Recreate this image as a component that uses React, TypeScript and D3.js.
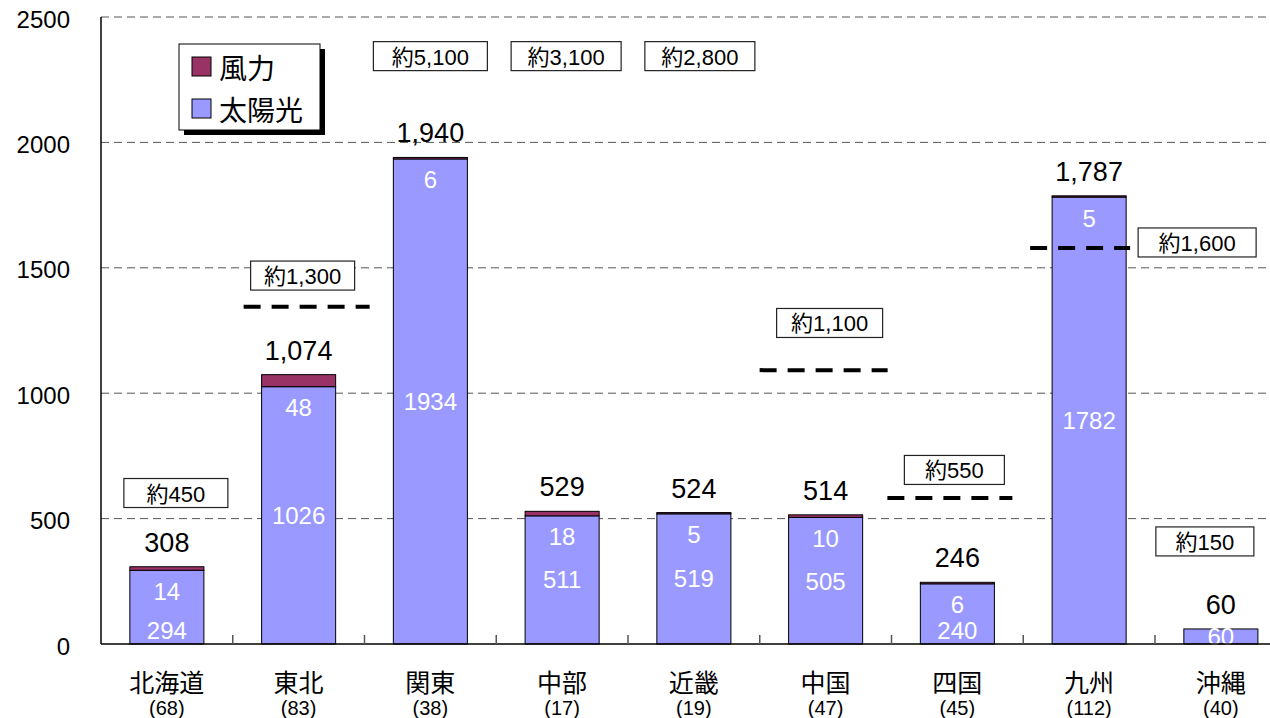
import React, { useEffect, useRef } from 'react';
import * as d3 from 'd3';

// regions, with the number of sites in brackets
const categories = ['北海道', '東北', '関東', '中部', '近畿', '中国', '四国', '九州', '沖縄'];
const siteCounts = ['68', '83', '38', '17', '19', '47', '45', '112', '40'];

// stacked series (solar at the bottom, wind on top)
const solar = [294, 1026, 1934, 511, 519, 505, 240, 1782, 60];
const wind = [14, 48, 6, 18, 5, 10, 6, 5, 0];
const totalLabels = ['308', '1,074', '1,940', '529', '524', '514', '246', '1,787', '60'];

// "approx." boxes above each region, and where they sit on the value axis
const limitText = ['約450', '約1,300', '約5,100', '約3,100', '約2,800', '約1,100', '約550', '約1,600', '約150'];
const limitBoxLevel = [602, 1469, 2344, 2344, 2344, 1280, 694, 1601, 409];

// thick dashed limit lines
const limitLineCats = ['東北', '中国', '四国', '九州'];
const limitLineLevel = [1345, 1092, 582, 1579];

const yTicks = [0, 500, 1000, 1500, 2000, 2500];

const seriesNames = ['風力', '太陽光'];
const COLORS = { wind: '#993366', solar: '#9999FF' };

const NUM_FONT = '"Liberation Sans", Arial, "Noto Sans CJK JP", sans-serif';
const CJK_FONT = '"Noto Sans CJK JP", "Liberation Sans", sans-serif';

export default function App() {
  const ref = useRef<SVGSVGElement | null>(null);

  useEffect(() => {
    const svg = d3.select(ref.current);
    svg.selectAll('*').remove();

    const W = 1270;
    const H = 718;
    const left = 101;
    const step = 131.75;
    const top = 17;
    const bottom = 644;

    const x = d3
      .scaleBand<string>()
      .domain(categories)
      .range([left, left + step * categories.length])
      .paddingInner(0.438)
      .paddingOuter(0.219);
    const y = d3.scaleLinear().domain([0, 2500]).range([bottom, top]);
    const cx = (c: string) => (x(c) as number) + x.bandwidth() / 2;

    // layout tweaks for the annotation boxes / lines (pixels)
    const boxDx = [9, 4, 0, 4, 6, 4, -3, 108, -16];
    const boxW = [104, 104, 114, 110, 110, 106, 100, 118, 98];
    const boxH = 29;
    const lineSpan = [[-55, 71], [-66, 62], [-70, 55], [-59, 41]];

    // gridlines
    svg
      .append('g')
      .selectAll('line')
      .data(yTicks.filter((t) => t > 0))
      .join('line')
      .attr('x1', left)
      .attr('x2', W)
      .attr('y1', (d) => y(d))
      .attr('y2', (d) => y(d))
      .attr('stroke', '#555')
      .attr('stroke-width', 1)
      .attr('stroke-dasharray', '8,5');

    // y tick labels
    svg
      .append('g')
      .selectAll('text')
      .data(yTicks)
      .join('text')
      .attr('x', 70)
      .attr('y', (d) => y(d) + 2)
      .attr('text-anchor', 'end')
      .attr('dominant-baseline', 'central')
      .attr('font-family', NUM_FONT)
      .attr('font-size', 24)
      .attr('fill', '#000')
      .text((d) => d);

    // bars
    const bars = svg.append('g');
    categories.forEach((c, i) => {
      const bx = x(c) as number;
      const bw = x.bandwidth();
      bars
        .append('rect')
        .attr('x', bx)
        .attr('y', y(solar[i]))
        .attr('width', bw)
        .attr('height', y(0) - y(solar[i]))
        .attr('fill', COLORS.solar)
        .attr('stroke', '#000')
        .attr('stroke-width', 1);
      if (wind[i] > 0) {
        bars
          .append('rect')
          .attr('x', bx)
          .attr('y', y(solar[i] + wind[i]))
          .attr('width', bw)
          .attr('height', y(solar[i]) - y(solar[i] + wind[i]))
          .attr('fill', COLORS.wind)
          .attr('stroke', '#000')
          .attr('stroke-width', 1);
      }

      // white labels inside the bar
      const solarTop = y(solar[i]);
      const windY = solarTop + 21;
      let solarY = (solarTop + y(0)) / 2;
      if (wind[i] > 0) {
        bars
          .append('text')
          .attr('x', cx(c))
          .attr('y', windY)
          .attr('text-anchor', 'middle')
          .attr('dominant-baseline', 'central')
          .attr('font-family', NUM_FONT)
          .attr('font-size', 24)
          .attr('fill', '#fff')
          .text(wind[i]);
        solarY = Math.min(Math.max(solarY, windY + 43), 630);
      }
      bars
        .append('text')
        .attr('x', cx(c))
        .attr('y', solarY)
        .attr('text-anchor', 'middle')
        .attr('dominant-baseline', 'central')
        .attr('font-family', NUM_FONT)
        .attr('font-size', 24)
        .attr('fill', '#fff')
        .text(solar[i]);

      // total above the bar
      bars
        .append('text')
        .attr('x', cx(c))
        .attr('y', y(solar[i] + wind[i]) - 24)
        .attr('text-anchor', 'middle')
        .attr('dominant-baseline', 'central')
        .attr('font-family', NUM_FONT)
        .attr('font-size', 27)
        .attr('fill', '#000')
        .text(totalLabels[i]);
    });

    // axes
    svg
      .append('line')
      .attr('x1', left)
      .attr('x2', W)
      .attr('y1', bottom)
      .attr('y2', bottom)
      .attr('stroke', '#000')
      .attr('stroke-width', 1.5);
    svg
      .append('line')
      .attr('x1', left)
      .attr('x2', left)
      .attr('y1', top)
      .attr('y2', bottom)
      .attr('stroke', '#000')
      .attr('stroke-width', 1.5);
    svg
      .append('g')
      .selectAll('line')
      .data(categories.slice(1))
      .join('line')
      .attr('x1', (c) => (x(c) as number) - x.step() * 0.219)
      .attr('x2', (c) => (x(c) as number) - x.step() * 0.219)
      .attr('y1', bottom)
      .attr('y2', bottom - 9)
      .attr('stroke', '#555')
      .attr('stroke-width', 1.5);

    // category labels
    const cat = svg.append('g');
    categories.forEach((c, i) => {
      cat
        .append('text')
        .attr('x', cx(c))
        .attr('y', 692)
        .attr('text-anchor', 'middle')
        .attr('font-family', CJK_FONT)
        .attr('font-size', 25)
        .attr('fill', '#000')
        .text(c);
      cat
        .append('text')
        .attr('x', cx(c))
        .attr('y', 715)
        .attr('text-anchor', 'middle')
        .attr('font-family', NUM_FONT)
        .attr('font-size', 20)
        .attr('fill', '#000')
        .text(`(${siteCounts[i]})`);
    });

    // limit lines
    limitLineCats.forEach((c, i) => {
      svg
        .append('line')
        .attr('x1', cx(c) + lineSpan[i][0])
        .attr('x2', cx(c) + lineSpan[i][1])
        .attr('y1', y(limitLineLevel[i]))
        .attr('y2', y(limitLineLevel[i]))
        .attr('stroke', '#000')
        .attr('stroke-width', 4)
        .attr('stroke-dasharray', '17,11');
    });

    // limit boxes
    categories.forEach((c, i) => {
      const bxc = cx(c) + boxDx[i];
      const byc = y(limitBoxLevel[i]);
      svg
        .append('rect')
        .attr('x', bxc - boxW[i] / 2)
        .attr('y', byc - boxH / 2)
        .attr('width', boxW[i])
        .attr('height', boxH)
        .attr('fill', '#fff')
        .attr('stroke', '#222')
        .attr('stroke-width', 1.2);
      svg
        .append('text')
        .attr('x', bxc)
        .attr('y', byc + 1)
        .attr('text-anchor', 'middle')
        .attr('dominant-baseline', 'central')
        .attr('font-family', NUM_FONT)
        .attr('font-size', 22)
        .attr('fill', '#000')
        .text(limitText[i]);
    });

    // legend
    const lg = svg.append('g').attr('transform', 'translate(179,44)');
    lg.append('rect').attr('x', 5).attr('y', 5).attr('width', 141).attr('height', 86).attr('fill', '#000');
    lg.append('rect')
      .attr('x', 0)
      .attr('y', 0)
      .attr('width', 141)
      .attr('height', 86)
      .attr('fill', '#fff')
      .attr('stroke', '#000')
      .attr('stroke-width', 1);
    seriesNames.forEach((name, i) => {
      const ly = 23 + i * 42;
      lg.append('rect')
        .attr('x', 13)
        .attr('y', ly - 10)
        .attr('width', 19)
        .attr('height', 19)
        .attr('fill', i === 0 ? COLORS.wind : COLORS.solar)
        .attr('stroke', '#000')
        .attr('stroke-width', 1);
      lg.append('text')
        .attr('x', 40)
        .attr('y', ly)
        .attr('dominant-baseline', 'central')
        .attr('font-family', CJK_FONT)
        .attr('font-size', 28)
        .attr('fill', '#000')
        .text(name);
    });

    svg.attr('width', W).attr('height', H);
  }, []);

  return (
    <svg
      ref={ref}
      width={1270}
      height={718}
      style={{ position: 'absolute', left: 0, top: 0, background: '#fff', overflow: 'hidden' }}
    />
  );
}
